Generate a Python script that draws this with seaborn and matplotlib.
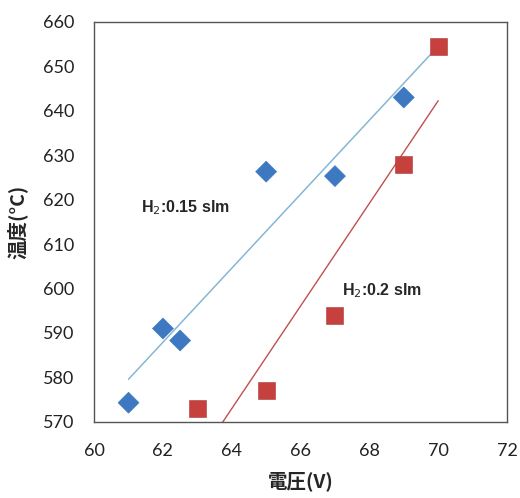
import numpy as np
import pandas as pd
import matplotlib
matplotlib.use("Agg")
import matplotlib.pyplot as plt
import seaborn as sns

# H2 0.15 slm series
volt_015 = [61, 62, 62.5, 65, 67, 69]
temp_015 = [574.3, 591.0, 588.3, 626.3, 625.3, 643.0]
# H2 0.2 slm series
volt_02 = [63, 65, 67, 69, 70]
temp_02 = [573.0, 577.0, 594.0, 628.0, 654.5]

x_ticks = [60, 62, 64, 66, 68, 70, 72]
y_ticks = [570, 580, 590, 600, 610, 620, 630, 640, 650, 660]

sns.set_theme(style="white")
plt.rcParams['font.family'] = ['Lato', 'Noto Sans CJK JP', 'DejaVu Sans']

df = pd.concat([
    pd.DataFrame({"v": volt_015, "t": temp_015, "s": "0.15"}),
    pd.DataFrame({"v": volt_02, "t": temp_02, "s": "0.2"}),
])

fig = plt.figure(figsize=(5.2, 4.98), dpi=100)
ax = fig.add_axes([0.181, 0.153, 0.794, 0.803])

# linear trendlines
k1, b1 = np.polyfit(volt_015, temp_015, 1)
xs1 = np.array([61, 69.8])
ax.plot(xs1, k1 * xs1 + b1, color="#86b6d6", lw=1.1, zorder=1)
k2, b2 = np.polyfit(volt_02, temp_02, 1)
xs2 = np.array([63, 70])
ax.plot(xs2, k2 * xs2 + b2, color="#c0504d", lw=1.0, zorder=1)

sns.scatterplot(data=df, x="v", y="t", hue="s", style="s",
                markers={"0.15": "D", "0.2": "s"},
                palette={"0.15": "#3d78c1", "0.2": "#c6403d"},
                s=150, linewidth=0.4, legend=False, ax=ax, zorder=3)
pts = ax.collections[0]
pts.set_edgecolor(["#3d78c1"] * len(volt_015) + ["#a83a38"] * len(volt_02))
pts.set_sizes([115] * len(volt_015) + [150] * len(volt_02))

ax.set_xlim(60, 72)
ax.set_ylim(570, 660)
ax.set_xticks(x_ticks)
ax.set_yticks(y_ticks)
ax.tick_params(length=0, labelsize=13, colors="#222222")
ax.tick_params(axis="x", pad=15)
ax.tick_params(axis="y", pad=14)

for sp in ax.spines.values():
    sp.set_color("#555555")
    sp.set_linewidth(1.0)

ax.set_xlabel("電圧(V)", fontsize=14, fontweight="bold",
              family=['Noto Sans CJK JP', 'DejaVu Sans'], labelpad=9)
ax.set_ylabel("温度(°C)", fontsize=14, fontweight="bold",
              family=['Noto Sans CJK JP', 'DejaVu Sans'], labelpad=11)

ax.text(61.35, 618.3, "H$_2$:0.15 slm", fontsize=11.5, fontweight="bold",
        family="Liberation Sans", va="center", ha="left")
ax.text(67.2, 599.6, "H$_2$:0.2 slm", fontsize=11.5, fontweight="bold",
        family="Liberation Sans", va="center", ha="left")

fig.savefig("out.png", dpi=100)
